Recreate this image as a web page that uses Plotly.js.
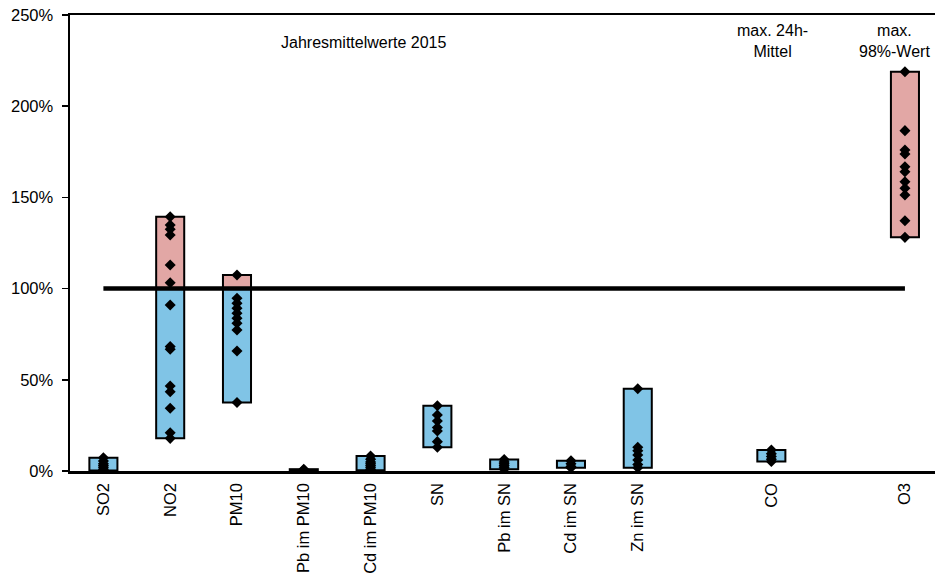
<!DOCTYPE html>
<html>
<head>
<meta charset="utf-8">
<script src="https://cdn.plot.ly/plotly-3.0.1.min.js"></script>
<style>html,body{margin:0;padding:0;background:#fff;}#chart{width:935px;height:579px;}</style>
</head>
<body>
<div id="chart"></div>
<script>
// Categories (slot positions leave gaps before CO and O3)
const categories = ["SO2","NO2","PM10","Pb im PM10","Cd im PM10","SN","Pb im SN","Cd im SN","Zn im SN","CO","O3"];
const slots = [0,1,2,3,4,5,6,7,8,10,12];

// Individual station values in % of limit value
const valSO2 = [7.3, 5.5, 4.0, 3.0, 2.0, 1.0, 0.3];
const valNO2 = [139.4, 134.9, 132.5, 129.4, 112.9, 103.2, 91.0, 68.2, 66.7, 46.6, 43.5, 34.4, 21.0, 17.9];
const valPM10 = [107.5, 94.7, 91.9, 89.2, 86.5, 83.7, 81.0, 77.3, 65.8, 37.6];
const valPbPM10 = [1.0, 0.6, 0.3, 0.2];
const valCdPM10 = [8.2, 6.5, 5.0, 4.0, 3.0, 2.0, 1.0, 0.4];
const valSN = [35.8, 30.7, 27.4, 23.8, 21.9, 16.1, 13.0];
const valPbSN = [6.3, 5.0, 4.0, 3.0, 2.0, 1.0];
const valCdSN = [5.6, 4.0, 2.5, 1.8];
const valZnSN = [45.1, 13.0, 11.1, 8.8, 6.0, 3.6, 1.8];
const valCO = [11.5, 9.5, 8.0, 6.5, 5.2];
const valO3 = [218.9, 186.6, 176.0, 173.8, 166.8, 164.1, 158.6, 155.0, 151.3, 137.2, 128.1];

const limitValue = 100;
const annoMain = "Jahresmittelwerte 2015";
const annoCO = "max. 24h-<br>Mittel";
const annoO3 = "max.<br>98%-Wert";

const series = [valSO2,valNO2,valPM10,valPbPM10,valCdPM10,valSN,valPbSN,valCdSN,valZnSN,valCO,valO3];

const mins = series.map(a => Math.min(...a));
const maxs = series.map(a => Math.max(...a));

// blue part: min .. min(max,100); red part: max(min,100) .. max
const blueBase = [], blueLen = [], redBase = [], redLen = [];
for (let i = 0; i < series.length; i++) {
  const lo = mins[i], hi = maxs[i];
  if (lo < limitValue) { blueBase.push(lo); blueLen.push(Math.min(hi, limitValue) - lo); }
  else { blueBase.push(null); blueLen.push(null); }
  if (hi > limitValue) { const b = Math.max(lo, limitValue); redBase.push(b); redLen.push(hi - b); }
  else { redBase.push(null); redLen.push(null); }
}

const px = [], py = [];
series.forEach((arr, i) => arr.forEach(v => { px.push(slots[i]); py.push(v); }));

const font = "Liberation Sans, Arial, sans-serif";

const traces = [
  {type:"bar", x:slots, y:blueLen, base:blueBase, width:0.42,
   marker:{color:"#80c4e6", line:{color:"#000", width:2}}, hoverinfo:"skip"},
  {type:"bar", x:slots, y:redLen, base:redBase, width:0.42,
   marker:{color:"#e2a7a5", line:{color:"#000", width:2}}, hoverinfo:"skip"},
  {type:"scatter", mode:"lines", x:[slots[0], slots[slots.length-1]], y:[limitValue, limitValue],
   line:{color:"#000", width:4.5}, hoverinfo:"skip"},
  {type:"scatter", mode:"markers", x:px, y:py,
   marker:{symbol:"diamond", size:8.5, color:"#000"}}
];

const layout = {
  width:935, height:579,
  margin:{l:70, r:0, t:15, b:108, pad:0},
  paper_bgcolor:"#fff", plot_bgcolor:"#fff",
  showlegend:false, barmode:"overlay",
  font:{family:font, size:16, color:"#000"},
  xaxis:{range:[-0.5, 12.45], tickvals:slots, ticktext:categories, tickangle:-90,
    showgrid:false, zeroline:false, showline:true, linecolor:"#000", linewidth:2.5, mirror:true,
    ticks:"", ticklabelstandoff:3, tickfont:{family:font, size:16.5, color:"#000"}},
  yaxis:{range:[0, 250], tickvals:[0,50,100,150,200,250], ticktext:["0%","50%","100%","150%","200%","250%"],
    showgrid:false, zeroline:false, showline:true, linecolor:"#000", linewidth:2.5,
    ticks:"outside", ticklen:6, tickwidth:1.5, tickcolor:"#000", ticklabelstandoff:5,
    tickfont:{family:font, size:16.5, color:"#000"}},
  annotations:[
    {text:annoMain, x:3.9, y:235, xref:"x", yref:"y", yanchor:"middle", showarrow:false,
     font:{family:font, size:16, color:"#000"}},
    {text:annoCO, x:10.02, y:235.5, xref:"x", yref:"y", yanchor:"middle", showarrow:false,
     font:{family:font, size:16, color:"#000"}},
    {text:annoO3, x:11.85, y:235.5, xref:"x", yref:"y", yanchor:"middle", showarrow:false,
     font:{family:font, size:16, color:"#000"}}
  ]
};

Plotly.newPlot("chart", traces, layout, {displayModeBar:false, staticPlot:true});
</script>
</body>
</html>
